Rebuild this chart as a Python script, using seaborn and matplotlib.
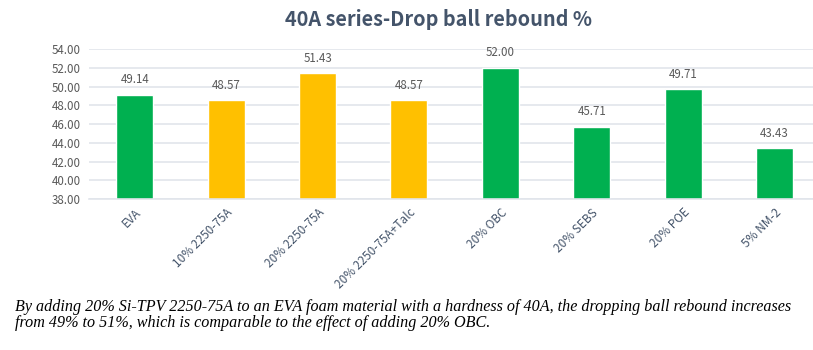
import pandas as pd
import seaborn as sns
import matplotlib.pyplot as plt
from matplotlib.ticker import FormatStrFormatter

# chart data
samples = ["EVA", "10% 2250-75A", "20% 2250-75A", "20% 2250-75A+Talc",
           "20% OBC", "20% SEBS", "20% POE", "5% NM-2"]
rebound = [49.14, 48.57, 51.43, 48.57, 52.00, 45.71, 49.71, 43.43]
bar_colors = ["#00B050", "#FFC000", "#FFC000", "#FFC000",
              "#00B050", "#00B050", "#00B050", "#00B050"]
y_ticks = [38, 40, 42, 44, 46, 48, 50, 52, 54]

title = "40A series-Drop ball rebound %"
caption = ("By adding 20% Si-TPV 2250-75A to an EVA foam material with a hardness of 40A, "
           "the dropping ball rebound increases\n"
           "from 49% to 51%, which is comparable to the effect of adding 20% OBC.")

df = pd.DataFrame({"sample": samples, "rebound": rebound})

sns.set_theme(style="white")
plt.rcParams["font.family"] = ["Noto Sans CJK SC", "DejaVu Sans"]

fig = plt.figure(figsize=(8.13, 3.5), dpi=100)
ax = fig.add_axes([0.1095, 0.431, 0.8905, 0.429])

sns.barplot(data=df, x="sample", y="rebound", hue="sample",
            palette=bar_colors, legend=False, width=0.405,
            saturation=1, ax=ax)

text_col = "#595959"
grid_col = "#E1E5EB"

ax.set_ylim(38, 54)
ax.set_xlim(-0.5, 7.42)
ax.set_yticks(y_ticks)
ax.yaxis.set_major_formatter(FormatStrFormatter("%.2f"))
ax.grid(axis="y", color=grid_col, linewidth=1.2)
ax.set_axisbelow(True)
for side in ["top", "right", "left"]:
    ax.spines[side].set_visible(False)
ax.spines["bottom"].set_color(grid_col)
ax.spines["bottom"].set_linewidth(1.2)

ax.set_xlabel("")
ax.set_ylabel("")
ax.tick_params(axis="y", length=0, labelsize=8.3, labelcolor=text_col, pad=6)
ax.tick_params(axis="x", length=0, labelsize=8.5, labelcolor="#44546A", pad=5)
for lbl in ax.get_xticklabels():
    lbl.set_rotation(45)
    lbl.set_ha("right")
    lbl.set_rotation_mode("anchor")

for cont in ax.containers:
    ax.bar_label(cont, fmt="%.2f", padding=6, fontsize=8.3, color=text_col)

fig.text(0.539, 0.945, title, ha="center", va="center",
         fontsize=14.3, fontweight="bold", color="#44546A")

fig.text(0.018, 0.1, caption, ha="left", va="center",
         fontsize=11.6, style="italic", family="Liberation Serif",
         color="#000000", linespacing=0.95)

plt.savefig("out.png", dpi=100)
